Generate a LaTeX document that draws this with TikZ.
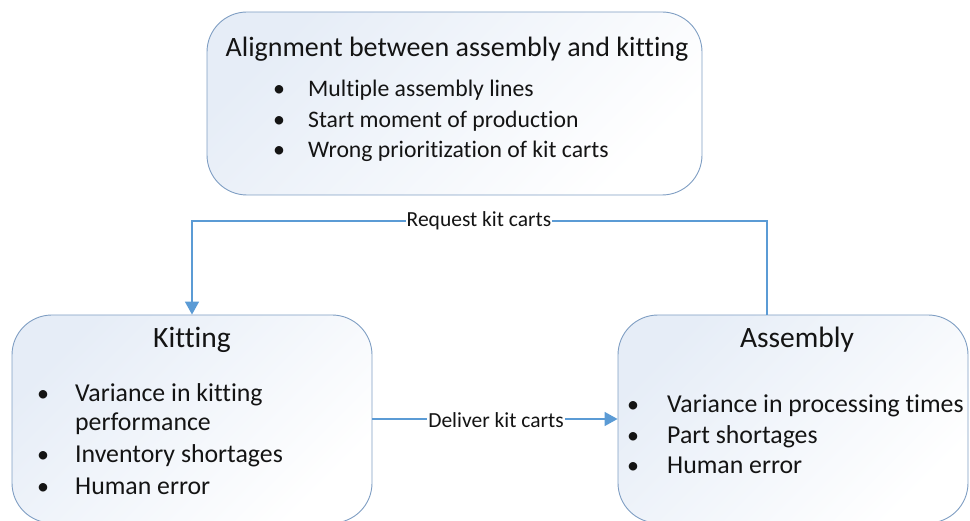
\documentclass[tikz,border=0pt]{standalone}
\usepackage{fontspec}
\setmainfont[Ligatures=NoCommon]{Carlito}
\usetikzlibrary{arrows.meta,calc}
\definecolor{boxedge}{HTML}{7F9EC3}
\definecolor{boxtint}{HTML}{E6EDF7}
\definecolor{flow}{HTML}{5B9BD5}
\definecolor{ink}{HTML}{141414}
\begin{document}
\begin{tikzpicture}[x=1pt,y=-1pt,
  panel/.style={draw=boxedge,line width=0.9pt,rounded corners=40pt,
    top color=boxtint,bottom color=white,shading angle=45,
    inner sep=0pt,minimum width=#1},
  heading/.style={font=\fontsize{#1}{#1}\selectfont,text=ink,inner sep=0pt,anchor=base},
  item/.style={font=\fontsize{#1}{#1}\selectfont,text=ink,inner sep=0pt,anchor=base west},
  dot/.style={font=\fontsize{24}{26}\selectfont,text=ink,inner sep=0pt,anchor=base},
  flowline/.style={draw=flow,line width=1.5pt},
  flowtip/.style={-{Triangle[length=13pt,width=14pt]}},
  tag/.style={font=\fontsize{21.5}{23}\selectfont,text=ink,fill=white,
    inner xsep=1pt,inner ysep=2pt}]
\useasboundingbox (0,0) rectangle (970,521);
\clip (0,0) rectangle (970,521);

% three process panels
\node[panel=495pt,minimum height=183pt] (align) at (454.5,103.5) {};
\node[panel=360pt,minimum height=208pt] (kit) at (192,419) {};
\node[panel=350pt,minimum height=208pt] (asm) at (793,419) {};

% alignment panel text (positions are baselines)
\node[heading=28] (alignT) at (457,57) {Alignment between assembly and kitting};
\node[dot] (ab1) at (279,97) {\textbullet};
\node[item=23.7] (at1) at (308,97) {Multiple assembly lines};
\node[dot] (ab2) at (279,128) {\textbullet};
\node[item=23.7] (at2) at (308,128) {Start moment of production};
\node[dot] (ab3) at (279,158) {\textbullet};
\node[item=23.7] (at3) at (308,158) {Wrong prioritization of kit carts};

% kitting panel text
\node[heading=29.5] (kitT) at (192,348) {Kitting};
\node[dot] (kb1) at (43,402) {\textbullet};
\node[item=25.8] (kt1) at (75,402) {Variance in kitting};
\node[item=25.8] (kt1b) at (75,431) {performance};
\node[dot] (kb2) at (43,463) {\textbullet};
\node[item=25.8] (kt2) at (75,463) {Inventory shortages};
\node[dot] (kb3) at (43,494) {\textbullet};
\node[item=25.8] (kt3) at (75,494) {Human error};

% assembly panel text
\node[heading=29.5] (asmT) at (797,348) {Assembly};
\node[dot] (sb1) at (633,413) {\textbullet};
\node[item=25.8] (st1) at (667,413) {Variance in processing times};
\node[dot] (sb2) at (633,443) {\textbullet};
\node[item=25.8] (st2) at (667,443) {Part shortages};
\node[dot] (sb3) at (633,474) {\textbullet};
\node[item=25.8] (st3) at (667,474) {Human error};

% request loop from assembly back to kitting
\coordinate (reqR) at (767,221);
\coordinate (reqL) at (192,221);
\draw[flowline,flowtip] (reqR |- asm.north) -- (reqR) -- (reqL) -- (reqL |- kit.north);
\node[tag] (reqTag) at (479,221) {Request kit carts};

% delivery from kitting to assembly
\draw[flowline,flowtip] (kit.east) -- (asm.west);
\node[tag] (delTag) at (496,420) {Deliver kit carts};
\end{tikzpicture}
\end{document}
